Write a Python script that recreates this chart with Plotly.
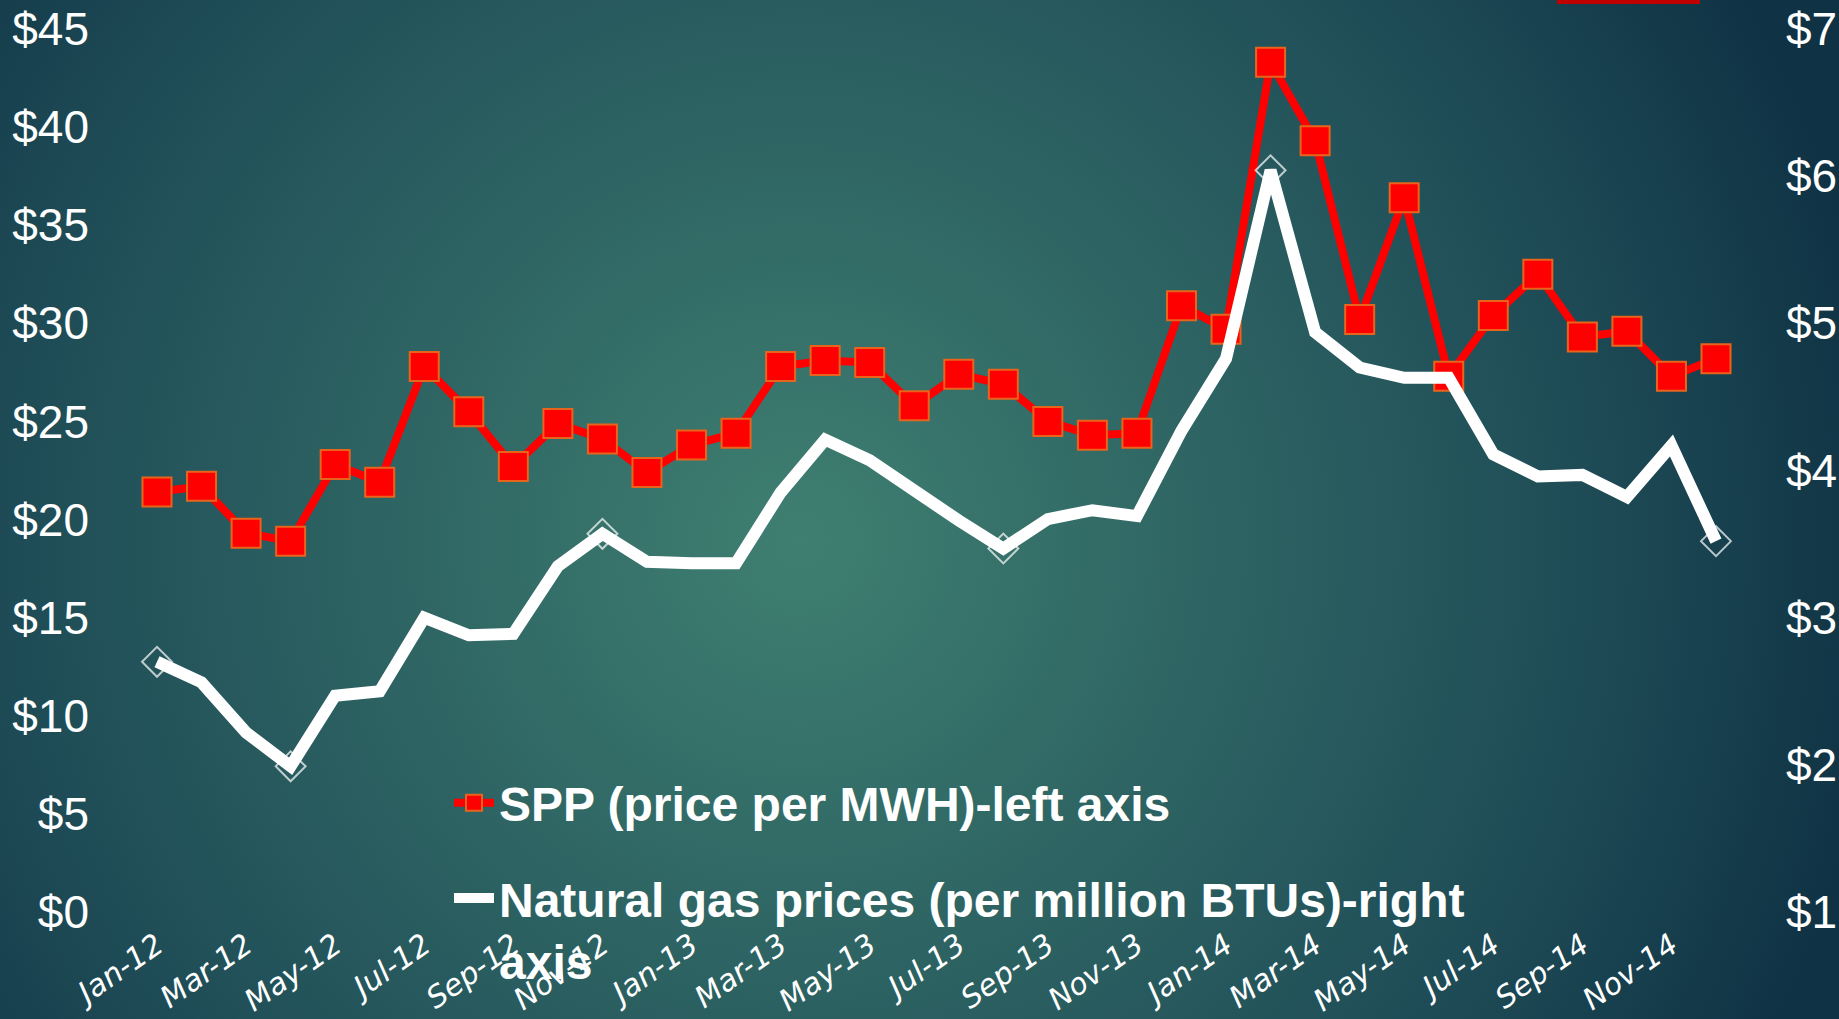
import base64
import plotly.graph_objects as go

# ---------------- data ----------------
months = [
    "Jan-12", "Feb-12", "Mar-12", "Apr-12", "May-12", "Jun-12",
    "Jul-12", "Aug-12", "Sep-12", "Oct-12", "Nov-12", "Dec-12",
    "Jan-13", "Feb-13", "Mar-13", "Apr-13", "May-13", "Jun-13",
    "Jul-13", "Aug-13", "Sep-13", "Oct-13", "Nov-13", "Dec-13",
    "Jan-14", "Feb-14", "Mar-14", "Apr-14", "May-14", "Jun-14",
    "Jul-14", "Aug-14", "Sep-14", "Oct-14", "Nov-14", "Dec-14",
]
spp_price = [
    21.4, 21.7, 19.3, 18.9, 22.8, 21.9,
    27.8, 25.5, 22.7, 24.9, 24.1, 22.4,
    23.8, 24.4, 27.8, 28.1, 28.0, 25.8,
    27.4, 26.9, 25.0, 24.3, 24.4, 30.9,
    29.7, 43.3, 39.3, 30.2, 36.4, 27.3,
    30.4, 32.5, 29.3, 29.6, 27.3, 28.2,
]
gas_price = [
    2.70, 2.56, 2.22, 1.99, 2.47, 2.50,
    3.00, 2.88, 2.89, 3.35, 3.57, 3.38,
    3.37, 3.37, 3.85, 4.21, 4.07, 3.86,
    3.66, 3.47, 3.67, 3.73, 3.69, 4.27,
    4.76, 6.04, 4.94, 4.70, 4.63, 4.63,
    4.11, 3.96, 3.97, 3.82, 4.17, 3.52,
]
# months where the gas line's diamond marker is visible
gas_marked_months = ["Jan-12", "Apr-12", "Nov-12", "Aug-13", "Feb-14", "Dec-14"]
x_tick_labels = months[::2]
left_ticks = [0, 5, 10, 15, 20, 25, 30, 35, 40, 45]
right_ticks = [1, 2, 3, 4, 5, 6, 7]

spp_name = "SPP (price per MWH)-left axis"
gas_name = "Natural gas prices (per million BTUs)-right<br>axis"

# ---------------- layout geometry ----------------
W, H = 1839, 1019
ML, MR, MT, MB = 100, 69, 29, 107
PW, PH = W - ML - MR, H - MT - MB

# background radial gradient (slide look)
svg = f'''<svg xmlns="http://www.w3.org/2000/svg" width="{W}" height="{H}">
<defs><radialGradient id="g" cx="800" cy="540" r="1100" gradientUnits="userSpaceOnUse">
<stop offset="0" stop-color="#3f7f71"/>
<stop offset="0.7" stop-color="#1f4d57"/>
<stop offset="1" stop-color="#0f3244"/>
</radialGradient></defs>
<rect width="{W}" height="{H}" fill="url(#g)"/></svg>'''
bg_src = "data:image/svg+xml;base64," + base64.b64encode(svg.encode()).decode()

fig = go.Figure()
fig.add_trace(go.Scatter(
    x=months, y=spp_price, name=spp_name, mode="lines+markers",
    line=dict(color="#ff0000", width=8),
    marker=dict(symbol="square", size=29, color="#ff0000",
                line=dict(color="#e8641c", width=2)),
    yaxis="y", legendgroup="spp", cliponaxis=False,
))
fig.add_trace(go.Scatter(
    x=months, y=gas_price, name=gas_name, mode="lines+markers",
    line=dict(color="#ffffff", width=12),
    marker=dict(symbol="diamond-open",
                size=[23 if m in gas_marked_months else 0 for m in months],
                color="#ffffff", line=dict(width=2)),
    yaxis="y2", legendgroup="gas", cliponaxis=False,
))

n = len(months)
first_px, last_px = 157, 1716
px_per = (last_px - first_px) / (n - 1)
x_lo = (ML - first_px) / px_per
x_hi = (n - 1) + (ML + PW - last_px) / px_per

fig.update_layout(
    width=W, height=H,
    margin=dict(l=ML, r=MR, t=MT, b=MB, pad=0, autoexpand=False),
    paper_bgcolor="#1d4a55",
    plot_bgcolor="rgba(0,0,0,0)",
    showlegend=True,
    legend=dict(
        x=(449 - ML) / PW, y=(MT + PH - 765) / PH,
        xanchor="left", yanchor="top",
        bgcolor="rgba(0,0,0,0)",
        font=dict(family="Liberation Sans, Arial, sans-serif", size=48,
                  color="#ffffff", weight="bold"),
        traceorder="grouped", tracegroupgap=30, valign="top",
        itemwidth=40,
    ),
    xaxis=dict(
        type="category", range=[x_lo, x_hi], automargin=False,
        tickmode="array", tickvals=x_tick_labels, ticktext=x_tick_labels,
        tickangle=-35, ticks="", showgrid=False, zeroline=False,
        showline=False, ticklabelstandoff=9, ticklabeloverflow="allow",
        tickfont=dict(family="DejaVu Sans, sans-serif", size=30,
                      color="#ffffff", style="italic"),
    ),
    yaxis=dict(
        range=[0, 45], tickmode="array", tickvals=left_ticks, automargin=False,
        ticktext=[f"${v}" for v in left_ticks], ticklabeloverflow="allow",
        showgrid=False, zeroline=False, showline=False, ticks="",
        ticklabelstandoff=10,
        tickfont=dict(family="Liberation Sans, Arial, sans-serif",
                      size=46, color="#ffffff"),
    ),
    yaxis2=dict(
        range=[1, 7], overlaying="y", side="right", tickmode="array",
        tickvals=right_ticks, ticktext=[f"${v}" for v in right_ticks],
        automargin=False, ticklabeloverflow="allow",
        showgrid=False, zeroline=False, showline=False, ticks="",
        ticklabelstandoff=15,
        tickfont=dict(family="Liberation Sans, Arial, sans-serif",
                      size=46, color="#ffffff"),
    ),
    images=[dict(
        source=bg_src, xref="paper", yref="paper",
        x=-ML / PW, y=1 + MT / PH, sizex=W / PW, sizey=H / PH,
        xanchor="left", yanchor="top", sizing="stretch", layer="below",
    )],
    shapes=[dict(
        type="rect", xref="paper", yref="paper",
        x0=(1557 - ML) / PW, x1=(1700 - ML) / PW,
        y0=1 + (MT - 4) / PH, y1=1 + MT / PH + 0.01,
        fillcolor="#c00000", line=dict(width=0), layer="above",
    )],
)

fig.write_html(
    "out.html",
    config={"displayModeBar": False},
    post_script="document.body.style.margin='0';document.body.style.overflow='hidden';",
)
